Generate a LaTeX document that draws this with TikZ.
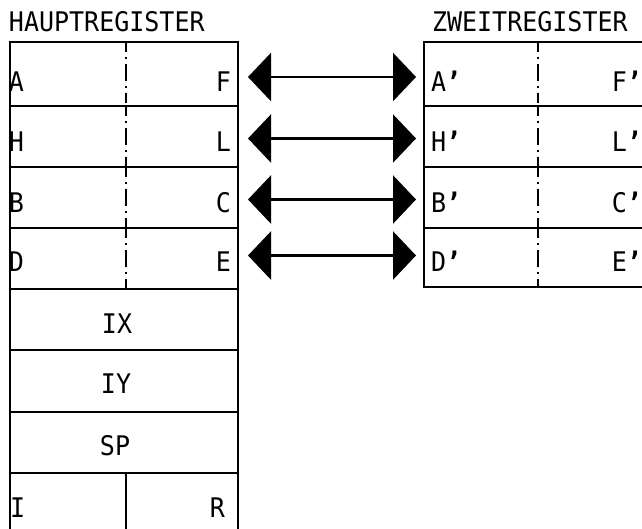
\documentclass[tikz,border=0pt]{standalone}
\usepackage{fontspec}
\setmonofont{DejaVu Sans Mono}
\usetikzlibrary{arrows.meta}
\newcommand{\ap}{{\bfseries ’}}
\newcommand{\tl}[1]{\scalebox{1}[1.08]{#1}}
\begin{document}
\begin{tikzpicture}[x=1pt,y=-1pt,
  reg/.style={draw,line width=2.9pt,minimum width=228pt,inner sep=0pt,outer sep=0pt,anchor=north west},
  lbl/.style={font=\ttfamily\fontsize{25}{25}\selectfont,inner sep=0pt,outer sep=0pt},
  lw/.style={lbl,anchor=base west},
  le/.style={lbl,anchor=base east},
  lc/.style={lbl,anchor=base},
  dd/.style={line width=2pt,dash pattern=on 10pt off 5pt on 2pt off 5pt on 17pt off 5pt on 2pt off 5pt on 10pt off 200pt},
  xch/.style={line width=2.8pt,{Triangle[length=23pt,width=48pt]}-{Triangle[length=23pt,width=48pt]},shorten <=10pt,shorten >=8pt}]
\useasboundingbox (0,0) rectangle (642,529);
\clip (0,0) rectangle (642,529);
% titles
\node[lw] (th) at (9,32) {\tl{HAUPTREGISTER}};
\node[lw] (tz) at (432,32) {\tl{ZWEITREGISTER}};
% main register rows
\node[reg,minimum height=64pt] (h1) at (10,42) {};
\node[reg,minimum height=61pt] (h2) at (10,106) {};
\node[reg,minimum height=61pt] (h3) at (10,167) {};
\node[reg,minimum height=61pt] (h4) at (10,228) {};
\node[reg,minimum height=61pt] (h5) at (10,289) {};
\node[reg,minimum height=62pt] (h6) at (10,350) {};
\node[reg,minimum height=61pt] (h7) at (10,412) {};
\node[reg,minimum height=61pt] (h8) at (10,473) {};
% second register rows
\node[reg,minimum height=64pt] (z1) at (424,42) {};
\node[reg,minimum height=61pt] (z2) at (424,106) {};
\node[reg,minimum height=61pt] (z3) at (424,167) {};
\node[reg,minimum height=59pt] (z4) at (424,228) {};
% dash-dot dividers
\foreach \r in {h1,h2,h3,h4}{\draw[dd] ([xshift=2pt]\r.north) -- ([xshift=2pt]\r.south);}
\foreach \r in {z1,z2,z3,z4}{\draw[dd] (\r.north) -- (\r.south);}
\draw[line width=2.9pt] ([xshift=2pt]h8.north) -- ([xshift=2pt]h8.south);
% labels main
\node[lw] (la) at (9,92) {\tl{A}};   \node[le] (lf) at (231,92) {\tl{F}};
\node[lw] (lh) at (9,152) {\tl{H}};  \node[le] (ll) at (231,152) {\tl{L}};
\node[lw] (lb) at (9,213) {\tl{B}};  \node[le] (lcc) at (231,213) {\tl{C}};
\node[lw] (ld) at (9,272) {\tl{D}};  \node[le] (le) at (231,272) {\tl{E}};
\node[lc] (lix) at (117,333) {\tl{IX}};
\node[lc] (liy) at (116,393) {\tl{IY}};
\node[lc] (lsp) at (115,455) {\tl{SP}};
\node[lw] (li) at (10,517) {\tl{I}};  \node[le] (lr) at (225,517) {\tl{R}};
% labels second
\node[lw] (za) at (431,92) {\tl{A\ap}};   \node[le] (zf) at (642,92) {\tl{F\ap}};
\node[lw] (zh) at (431,152) {\tl{H\ap}};  \node[le] (zl) at (642,152) {\tl{L\ap}};
\node[lw] (zb) at (431,213) {\tl{B\ap}};  \node[le] (zc) at (642,213) {\tl{C\ap}};
\node[lw] (zd) at (431,272) {\tl{D\ap}};  \node[le] (ze) at (642,272) {\tl{E\ap}};
% exchange arrows
\draw[xch] ([yshift=-3pt]h1.east) -- ([yshift=-3pt]z1.west);
\draw[xch] ([yshift=-2pt]h2.east) -- ([yshift=-2pt]z2.west);
\draw[xch] ([yshift=-2pt]h3.east) -- ([yshift=-2pt]z3.west);
\draw[xch] ([yshift=3pt]h4.east) -- ([yshift=2pt]z4.west);
\end{tikzpicture}
\end{document}
